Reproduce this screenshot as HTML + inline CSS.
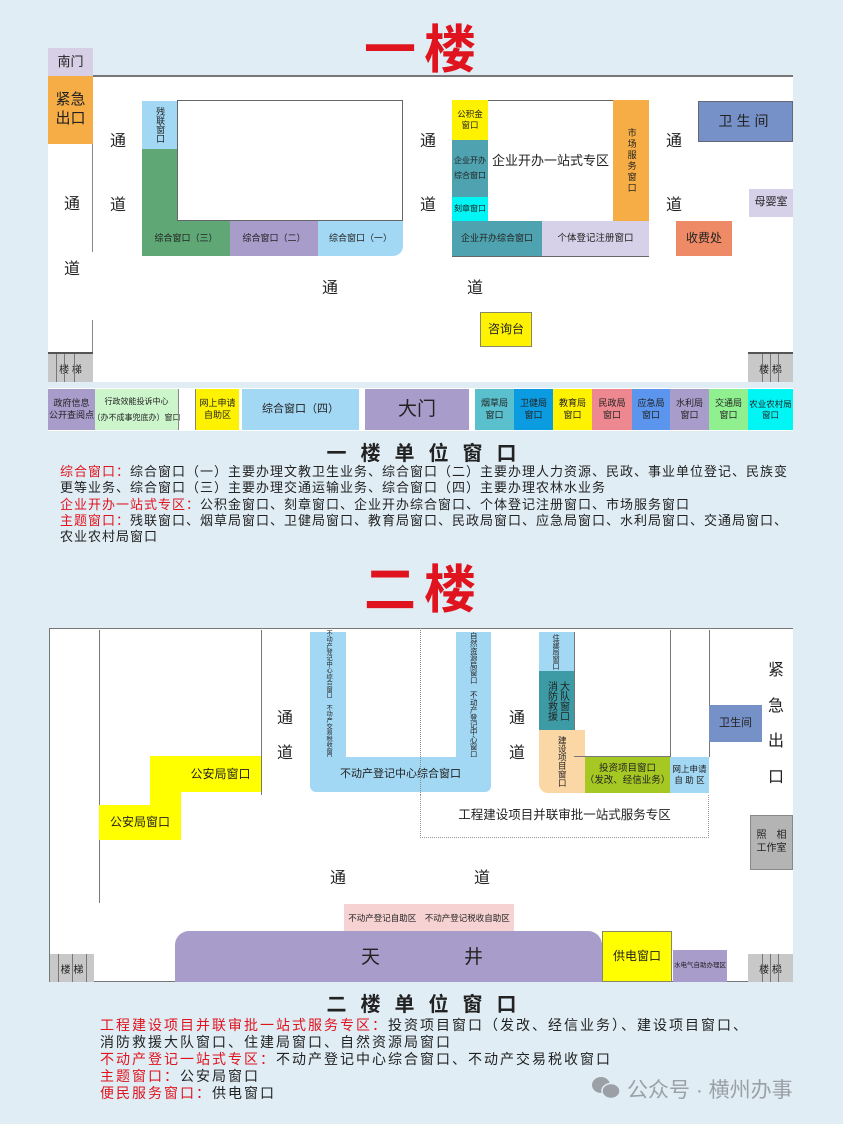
<!DOCTYPE html>
<html><head><meta charset="utf-8">
<style>
*{margin:0;padding:0;box-sizing:border-box}
body{width:843px;height:1124px;background:#e0edf5;position:relative;overflow:hidden;font-family:"Liberation Sans","Noto Sans CJK SC",sans-serif;color:#222}
.a{position:absolute}
.b{position:absolute;display:flex;align-items:center;justify-content:center;text-align:center;line-height:1.25}
.v{writing-mode:vertical-rl;letter-spacing:0}
.nw{white-space:nowrap}
.t{position:absolute;font-size:16px;color:#222}
.red{color:#e0141e}
.leg{position:absolute;font-size:13px;letter-spacing:1px;line-height:16.3px;color:#222;white-space:nowrap}
.leg span{color:#e0141e}
.stairs{position:absolute;background:#c8c8c8;border-top:2px solid #555;font-size:10px;display:flex;align-items:center;justify-content:center}
.stairs i{position:absolute;top:0;bottom:0;width:1px;background:#777}
</style></head><body>

<div class="a red" style="left:364px;top:22px;font-size:52px;font-weight:bold;letter-spacing:8px;line-height:58px">一楼</div>

<!-- Floor 1 -->
<div class="a" style="left:48px;top:76px;width:745px;height:355px;background:#fff"></div>
<div class="a" style="left:93px;top:75px;width:700px;height:2px;background:#777"></div>
<div class="b" style="left:48px;top:48px;width:45px;height:28px;background:#d6cfe6;font-size:13px">南门</div>
<div class="b" style="left:48px;top:76px;width:45px;height:68px;background:#f6ad45;font-size:15px">紧急<br>出口</div>
<div class="a" style="left:92px;top:144px;width:1px;height:108px;background:#888"></div>
<div class="a" style="left:92px;top:320px;width:1px;height:32px;background:#888"></div>
<div class="stairs" style="left:48px;top:352px;width:45px;height:30px">楼 梯<i style="left:8px"></i><i style="left:16px"></i><i style="left:26px"></i></div>
<div class="a" style="left:48px;top:382px;width:745px;height:6px;background:#e0edf5"></div>
<div class="t" style="left:64px;top:190px">通</div>
<div class="t" style="left:64px;top:255px">道</div>
<div class="t" style="left:110px;top:127px">通</div>
<div class="t" style="left:110px;top:191px">道</div>
<div class="t" style="left:420px;top:127px">通</div>
<div class="t" style="left:420px;top:191px">道</div>
<div class="t" style="left:666px;top:127px">通</div>
<div class="t" style="left:666px;top:191px">道</div>
<div class="t" style="left:322px;top:274px">通</div>
<div class="t" style="left:467px;top:274px">道</div>

<div class="b v" style="left:142px;top:101px;width:35px;height:48px;background:#a3d8f4;font-size:9px">残联窗口</div>
<div class="a" style="left:142px;top:149px;width:35px;height:107px;background:#5fa775"></div>
<div class="b nw" style="left:142px;top:221px;width:88px;height:35px;background:#5fa775;font-size:9px;border-bottom-left-radius:14px">综合窗口（三）</div>
<div class="a" style="left:177px;top:100px;width:226px;height:121px;border:1px solid #666;background:#fff"></div>
<div class="b nw" style="left:230px;top:221px;width:88px;height:35px;background:#a89ccb;font-size:9px">综合窗口（二）</div>
<div class="b nw" style="left:318px;top:221px;width:85px;height:35px;background:#a3d8f4;font-size:9px;border-bottom-right-radius:10px">综合窗口（一）</div>

<div class="a" style="left:452px;top:100px;width:197px;height:157px;border:1px solid #666"></div>
<div class="b" style="left:452px;top:100px;width:36px;height:40px;background:#fff200;font-size:8.5px">公积金<br>窗口</div>
<div class="b nw" style="left:452px;top:140px;width:36px;height:57px;background:#4fa3b0;font-size:8px;line-height:1.8">企业开办<br>综合窗口</div>
<div class="b nw" style="left:452px;top:197px;width:36px;height:24px;background:#00f5f5;font-size:8px">刻章窗口</div>
<div class="b nw" style="left:488px;top:101px;width:125px;height:120px;background:#fff;font-size:13px">企业开办一站式专区</div>
<div class="b v" style="left:613px;top:100px;width:36px;height:121px;background:#f6ad45;font-size:9px;letter-spacing:2px">市场服务窗口</div>
<div class="b nw" style="left:452px;top:221px;width:90px;height:35px;background:#4fa3b0;font-size:9px">企业开办综合窗口</div>
<div class="b nw" style="left:542px;top:221px;width:107px;height:35px;background:#d6d0e8;font-size:9.5px">个体登记注册窗口</div>

<div class="b" style="left:698px;top:101px;width:95px;height:41px;background:#7690c8;border:1px solid #667;font-size:14px;letter-spacing:4px">卫生间</div>
<div class="b" style="left:749px;top:189px;width:44px;height:28px;background:#d6d0e8;font-size:11px">母婴室</div>
<div class="b" style="left:676px;top:221px;width:56px;height:35px;background:#ee8a66;font-size:12px">收费处</div>
<div class="b" style="left:480px;top:312px;width:52px;height:35px;background:#fff200;border:1px solid #886;font-size:12px">咨询台</div>
<div class="stairs" style="left:748px;top:352px;width:45px;height:30px">楼 梯<i style="left:14px"></i><i style="left:22px"></i><i style="left:30px"></i></div>

<div class="b" style="left:48px;top:389px;width:47px;height:41px;background:#a89ccb;font-size:9px">政府信息<br>公开查阅点</div>
<div class="b nw" style="left:95px;top:389px;width:83px;height:41px;background:#ccf5cc;font-size:8px;line-height:1.9">行政效能投诉中心<br>（办不成事兜底办）窗口</div>
<div class="a" style="left:178px;top:389px;width:1px;height:41px;background:#888"></div>
<div class="b" style="left:195px;top:389px;width:44px;height:41px;background:#fff200;border-left:1px solid #886;font-size:9px">网上申请<br>自助区</div>
<div class="b" style="left:242px;top:389px;width:117px;height:41px;background:#a3d8f4;font-size:11px">综合窗口（四）</div>
<div class="b" style="left:365px;top:389px;width:104px;height:41px;background:#a89ccb;font-size:19px">大门</div>
<div class="b" style="left:475px;top:389px;width:39px;height:41px;background:#5bc0ce;font-size:9px">烟草局<br>窗口</div>
<div class="b" style="left:514px;top:389px;width:39px;height:41px;background:#0b9be0;font-size:9px">卫健局<br>窗口</div>
<div class="b" style="left:553px;top:389px;width:39px;height:41px;background:#fff200;font-size:9px">教育局<br>窗口</div>
<div class="b" style="left:592px;top:389px;width:40px;height:41px;background:#ee8890;font-size:9px">民政局<br>窗口</div>
<div class="b" style="left:632px;top:389px;width:38px;height:41px;background:#5b95ee;font-size:9px">应急局<br>窗口</div>
<div class="b" style="left:670px;top:389px;width:39px;height:41px;background:#a89ccb;font-size:9px">水利局<br>窗口</div>
<div class="b" style="left:709px;top:389px;width:39px;height:41px;background:#90f090;font-size:9px">交通局<br>窗口</div>
<div class="b nw" style="left:748px;top:389px;width:45px;height:41px;background:#00f5f5;font-size:8.5px">农业农村局<br>窗口</div>

<div class="a" style="left:0;width:843px;top:437px;text-align:center;font-size:20px;font-weight:bold;letter-spacing:14px;padding-left:14px">一楼单位窗口</div>
<div class="leg" style="left:60px;top:464px">
<span>综合窗口：</span>综合窗口（一）主要办理文教卫生业务、综合窗口（二）主要办理人力资源、民政、事业单位登记、民族变<br>
更等业务、综合窗口（三）主要办理交通运输业务、综合窗口（四）主要办理农林水业务<br>
<span>企业开办一站式专区：</span>公积金窗口、刻章窗口、企业开办综合窗口、个体登记注册窗口、市场服务窗口<br>
<span>主题窗口：</span>残联窗口、烟草局窗口、卫健局窗口、教育局窗口、民政局窗口、应急局窗口、水利局窗口、交通局窗口、<br>
农业农村局窗口</div>

<div class="a red" style="left:364px;top:562px;font-size:52px;font-weight:bold;letter-spacing:8px;line-height:58px">二楼</div>

<!-- Floor 2 -->
<div class="a" style="left:49px;top:628px;width:744px;height:354px;background:#fff;border-top:1px solid #777;border-left:1px solid #777;border-bottom:1px solid #777"></div>
<div class="a" style="left:99px;top:630px;width:1px;height:273px;background:#777"></div>
<div class="a" style="left:261px;top:630px;width:1px;height:165px;background:#777"></div>
<svg class="a" style="left:0;top:0" width="843" height="1124">
<polygon points="150,756 261,756 261,792 181,792 181,840 99,840 99,805 150,805" fill="#ffff00"/>
</svg>
<div class="b" style="left:150px;top:756px;width:111px;height:36px;font-size:12px;padding-left:30px">公安局窗口</div>
<div class="b" style="left:99px;top:805px;width:82px;height:35px;font-size:12px">公安局窗口</div>

<div class="b v nw" style="left:310px;top:632px;width:36px;height:126px;background:#a3d8f4;font-size:6.2px;line-height:1">不动产登记中心综合窗口　不动产交易税收窗口</div>
<div class="b v nw" style="left:456px;top:632px;width:35px;height:126px;background:#a3d8f4;font-size:7.4px;line-height:1">自然资源局窗口　不动产登记中心窗口</div>
<div class="b nw" style="left:310px;top:757px;width:181px;height:35px;background:#a3d8f4;font-size:11px;border-radius:0 0 6px 6px">不动产登记中心综合窗口</div>
<div class="a" style="left:420px;top:628px;width:0;height:167px;border-left:1px dotted #888"></div>
<div class="b nw" style="left:420px;top:795px;width:289px;height:43px;border:1px dotted #999;border-top:none;font-size:12.5px">工程建设项目并联审批一站式服务专区</div>
<div class="a" style="left:670px;top:630px;width:1px;height:127px;background:#777"></div>
<div class="a" style="left:709px;top:630px;width:1px;height:127px;background:#777"></div>

<div class="b v nw" style="left:539px;top:632px;width:35px;height:39px;background:#a3d8f4;font-size:7.2px;line-height:1">住建局窗口</div>
<div class="b nw" style="left:539px;top:671px;width:35px;height:59px;background:#3d9ba6;font-size:10px;line-height:1.2;writing-mode:vertical-lr">消防救援<br>大队窗口</div>
<div class="b v nw" style="left:539px;top:730px;width:46px;height:63px;background:#fbd7a6;font-size:8.5px;line-height:1;border-bottom-left-radius:9px">建设项目窗口</div>
<div class="a" style="left:574px;top:632px;width:1px;height:98px;background:#777"></div>
<div class="a" style="left:574px;top:756px;width:96px;height:1px;background:#777"></div>
<div class="b nw" style="left:585px;top:757px;width:85px;height:36px;background:#a6c822;font-size:9.5px">投资项目窗口<br>（发改、经信业务）</div>
<div class="b nw" style="left:670px;top:757px;width:39px;height:36px;background:#a3d8f4;font-size:8.5px">网上申请<br>自 助 区</div>

<div class="b" style="left:709px;top:705px;width:53px;height:37px;background:#7690c8;font-size:11px">卫生间</div>
<div class="t" style="left:768px;top:656px">紧</div>
<div class="t" style="left:768px;top:692px">急</div>
<div class="t" style="left:768px;top:727px">出</div>
<div class="t" style="left:768px;top:763px">口</div>
<div class="b" style="left:750px;top:815px;width:43px;height:55px;background:#b4b4b4;border:1px solid #888;font-size:10px">照　相<br>工作室</div>

<div class="t" style="left:277px;top:704px">通</div>
<div class="t" style="left:277px;top:739px">道</div>
<div class="t" style="left:509px;top:704px">通</div>
<div class="t" style="left:509px;top:739px">道</div>
<div class="t" style="left:330px;top:864px">通</div>
<div class="t" style="left:474px;top:864px">道</div>

<div class="b nw" style="left:344px;top:904px;width:170px;height:28px;background:#f7d2d2;font-size:8.5px;justify-content:space-around">不动产登记自助区<span>不动产登记税收自助区</span></div>
<div class="a" style="left:175px;top:931px;width:427px;height:51px;background:#a89ccb;border-radius:14px 14px 0 0"></div>
<div class="t" style="left:361px;top:942px;font-size:19px">天</div>
<div class="t" style="left:464px;top:942px;font-size:19px">井</div>
<div class="b" style="left:602px;top:931px;width:70px;height:51px;background:#ffff00;border:1px solid #886;font-size:12px">供电窗口</div>
<div class="b nw" style="left:673px;top:950px;width:54px;height:32px;background:#a89ccb;font-size:6.5px">水电气自助办理区</div>
<div class="stairs" style="left:50px;top:954px;width:44px;height:28px;border-top:none">楼 梯<i style="left:8px"></i><i style="left:22px"></i><i style="left:36px"></i></div>
<div class="stairs" style="left:748px;top:954px;width:45px;height:28px;border-top:none">楼 梯<i style="left:14px"></i><i style="left:22px"></i><i style="left:30px"></i></div>

<div class="a" style="left:0;width:843px;top:988px;text-align:center;font-size:20px;font-weight:bold;letter-spacing:14px;padding-left:14px">二楼单位窗口</div>
<div class="leg" style="left:100px;top:1017px;font-size:14px;letter-spacing:2px;line-height:17px">
<span>工程建设项目并联审批一站式服务专区：</span>投资项目窗口（发改、经信业务）、建设项目窗口、<br>
消防救援大队窗口、住建局窗口、自然资源局窗口<br>
<span>不动产登记一站式专区：</span>不动产登记中心综合窗口、不动产交易税收窗口<br>
<span>主题窗口：</span>公安局窗口<br>
<span>便民服务窗口：</span>供电窗口</div>

<svg class="a" style="left:590px;top:1074px" width="34" height="28">
<ellipse cx="11" cy="11" rx="9" ry="8" fill="#9aa0a6"/>
<ellipse cx="21" cy="17" rx="9" ry="7.5" fill="#9aa0a6" stroke="#e0edf5" stroke-width="1.5"/>
</svg>
<div class="a" style="left:627px;top:1074px;font-size:21px;color:#9aa0a6">公众号 · 横州办事</div>
</body></html>
